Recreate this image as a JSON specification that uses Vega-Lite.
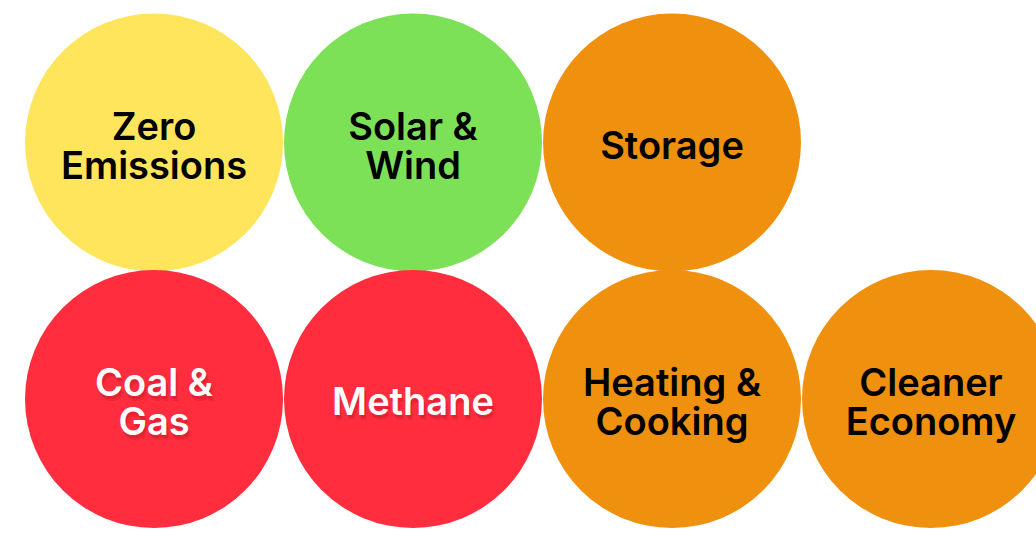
{
  "$schema": "https://vega.github.io/schema/vega-lite/v6.json",
  "autosize": {"type": "none"},
  "width": 1036,
  "height": 533,
  "padding": 0,
  "background": "#ffffff",
  "config": {"view": {"stroke": null}},
  "data": {
    "values": [
      {"label": "Zero\nEmissions", "lines": 2, "col": 0, "row": 0, "color": "#FEE55C", "textColor": "#000000", "group": "light"},
      {"label": "Solar &\nWind", "lines": 2, "col": 1, "row": 0, "color": "#7DE157", "textColor": "#000000", "group": "light"},
      {"label": "Storage", "lines": 1, "col": 2, "row": 0, "color": "#F0900F", "textColor": "#000000", "group": "light"},
      {"label": "Coal &\nGas", "lines": 2, "col": 0, "row": 1, "color": "#FF2D3E", "textColor": "#FFFFFF", "group": "red"},
      {"label": "Methane", "lines": 1, "col": 1, "row": 1, "color": "#FF2D3E", "textColor": "#FFFFFF", "group": "red"},
      {"label": "Heating &\nCooking", "lines": 2, "col": 2, "row": 1, "color": "#F0900F", "textColor": "#000000", "group": "light"},
      {"label": "Cleaner\nEconomy", "lines": 2, "col": 3, "row": 1, "color": "#F0900F", "textColor": "#000000", "group": "light"}
    ]
  },
  "encoding": {
    "x": {"field": "col", "type": "quantitative", "scale": {"domain": [-0.5946, 3.4054], "nice": false, "zero": false}, "axis": null},
    "y": {"field": "row", "type": "quantitative", "scale": {"domain": [-0.5556, 1.5224], "nice": false, "zero": false, "reverse": true}, "axis": null}
  },
  "layer": [
    {
      "mark": {"type": "point", "shape": "circle", "filled": true, "opacity": 1, "size": 66564, "strokeWidth": 0},
      "encoding": {"color": {"field": "color", "type": "nominal", "scale": null}}
    },
    {
      "transform": [{"filter": "datum.group === 'red' && datum.lines === 2"}],
      "mark": {"type": "text", "font": "Inter", "fontSize": 38, "fontWeight": 600, "lineBreak": "\n", "lineHeight": 39, "align": "center", "baseline": "middle", "dy": -9, "dx": 2, "color": "#8a0010", "opacity": 0.12},
      "encoding": {"text": {"field": "label"}}
    },
    {
      "transform": [{"filter": "datum.group === 'red' && datum.lines === 2"}],
      "mark": {"type": "text", "font": "Inter", "fontSize": 38, "fontWeight": 600, "lineBreak": "\n", "lineHeight": 39, "align": "center", "baseline": "middle", "dy": -11, "dx": 1, "color": "#8a0010", "opacity": 0.15},
      "encoding": {"text": {"field": "label"}}
    },
    {
      "transform": [{"filter": "datum.group === 'red' && datum.lines === 1"}],
      "mark": {"type": "text", "font": "Inter", "fontSize": 38, "fontWeight": 600, "lineBreak": "\n", "lineHeight": 39, "align": "center", "baseline": "middle", "dy": 10, "dx": 2, "color": "#8a0010", "opacity": 0.12},
      "encoding": {"text": {"field": "label"}}
    },
    {
      "transform": [{"filter": "datum.group === 'red' && datum.lines === 1"}],
      "mark": {"type": "text", "font": "Inter", "fontSize": 38, "fontWeight": 600, "lineBreak": "\n", "lineHeight": 39, "align": "center", "baseline": "middle", "dy": 8, "dx": 1, "color": "#8a0010", "opacity": 0.15},
      "encoding": {"text": {"field": "label"}}
    },
    {
      "transform": [{"filter": "datum.lines === 2"}],
      "mark": {"type": "text", "font": "Inter", "fontSize": 38, "fontWeight": 600, "lineBreak": "\n", "lineHeight": 39, "align": "center", "baseline": "middle", "dy": -14},
      "encoding": {
        "text": {"field": "label"},
        "color": {"field": "textColor", "type": "nominal", "scale": null}
      }
    },
    {
      "transform": [{"filter": "datum.lines === 1"}],
      "mark": {"type": "text", "font": "Inter", "fontSize": 38, "fontWeight": 600, "lineBreak": "\n", "lineHeight": 39, "align": "center", "baseline": "middle", "dy": 5},
      "encoding": {
        "text": {"field": "label"},
        "color": {"field": "textColor", "type": "nominal", "scale": null}
      }
    }
  ]
}
